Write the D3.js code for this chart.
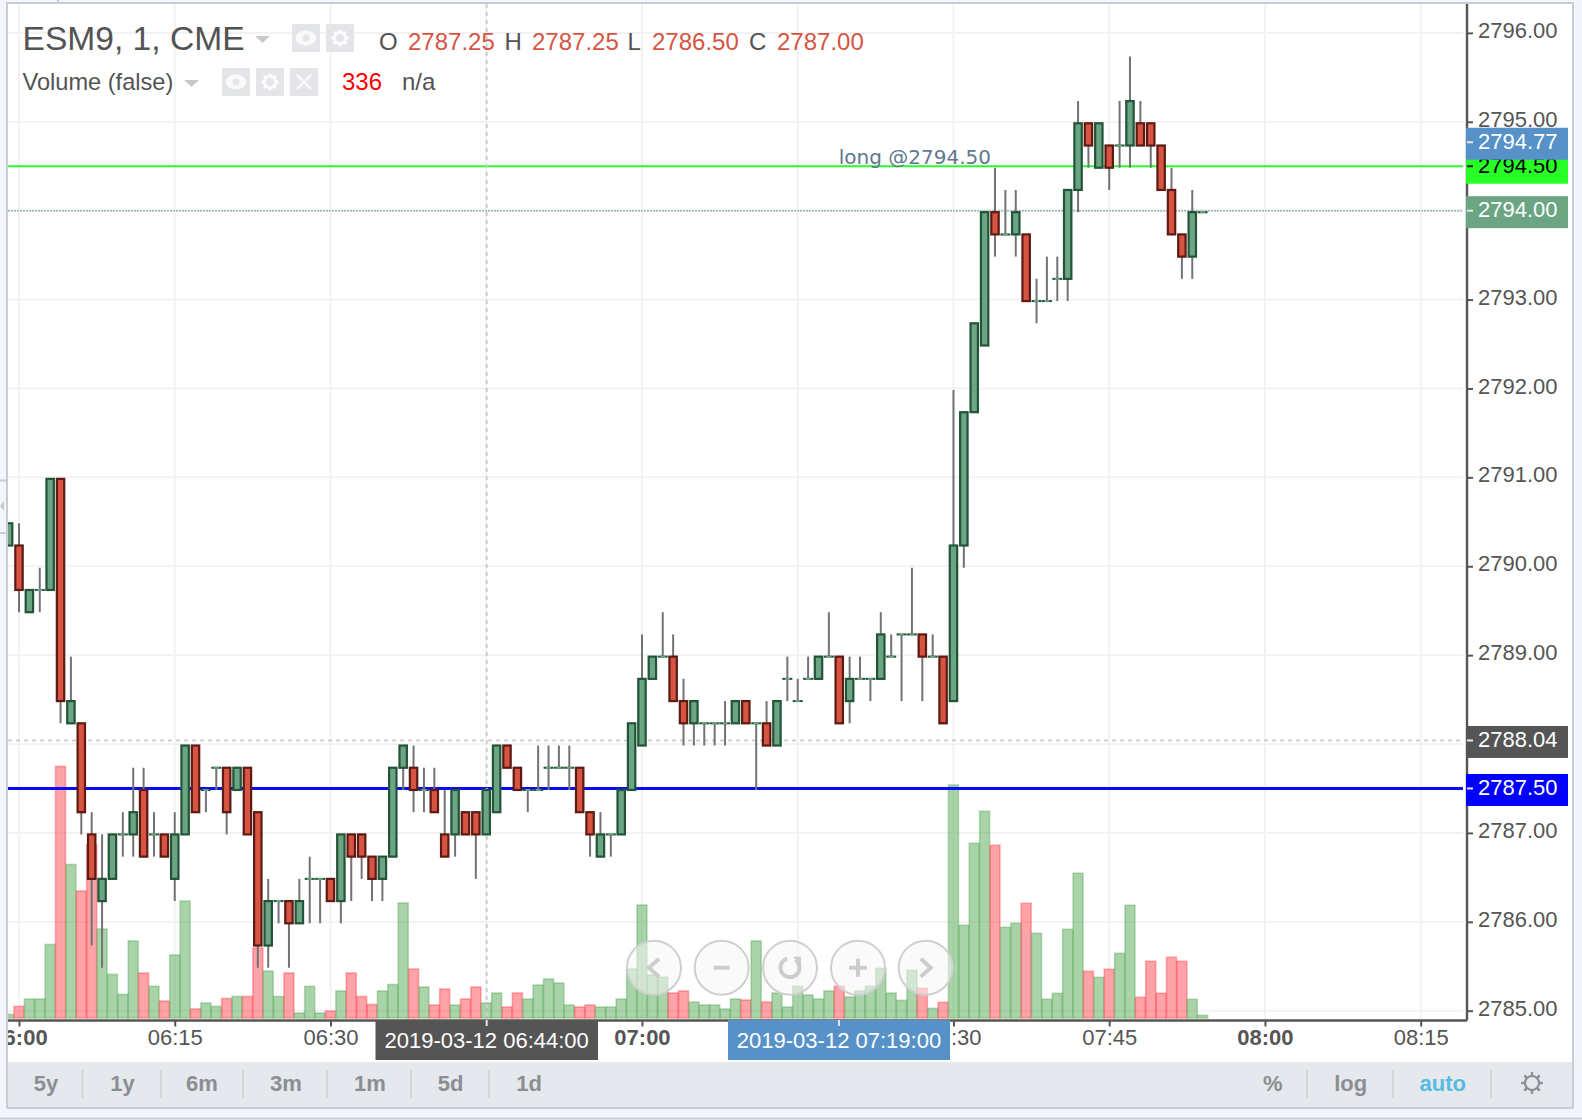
<!DOCTYPE html>
<html><head><meta charset="utf-8">
<script src="https://cdn.jsdelivr.net/npm/d3@7/dist/d3.min.js"></script>
<style>
html,body{margin:0;padding:0;background:#f2f5fa;overflow:hidden}
svg{display:block;font-family:"Liberation Sans",Arial,sans-serif}
</style></head><body><svg id="c" width="1582" height="1120"></svg>
<script>
// Bars are one minute apart, starting at 05:59 on 2019-03-12
const opens=[2790.25,2790.25,2789.5,2789.75,2789.75,2791,2788.25,2788.25,2787,2786.25,2786.5,2787,2787,2787.5,2787,2787,2786.5,2787,2788,2787.5,2787.75,2787.75,2787.5,2787.75,2787.25,2785.75,2786.25,2786.25,2786,2786.5,2786.5,2786.5,2786.25,2787,2787,2786.75,2786.5,2786.75,2787.75,2787.75,2787.5,2787.5,2787,2787,2787.25,2787.25,2787,2787.25,2788,2787.75,2787.5,2787.5,2787.75,2787.75,2787.75,2787.75,2787.25,2786.75,2787,2787,2787.5,2788,2788.75,2789,2789,2788.5,2788.25,2788.25,2788.25,2788.25,2788.25,2788.5,2788.25,2788.25,2788,2788.75,2788.5,2788.75,2788.75,2789,2789,2788.5,2788.75,2788.75,2788.75,2789,2789.25,2789.25,2789.25,2789,2789,2788.5,2790.25,2791.75,2792.5,2794,2793.75,2793.75,2793.75,2793,2793,2793.25,2793.25,2794.25,2795,2794.5,2794.75,2794.75,2794.75,2795,2795,2794.75,2794.25,2793.75,2793.5,2794];
const highs=[2790.5,2790.5,2789.75,2790,2791,2791,2789,2788.25,2787.25,2787,2787,2787.25,2787.75,2787.75,2787.25,2787,2787.25,2788,2788,2787.5,2787.75,2787.75,2787.75,2787.75,2787.25,2786.5,2786.25,2786.25,2786.5,2786.75,2786.5,2786.5,2787,2787,2787,2786.75,2786.75,2787.75,2788,2788,2787.75,2787.75,2787.5,2787.5,2787.25,2787.25,2787.5,2788,2788,2787.75,2787.5,2788,2788,2788,2788,2787.75,2787.25,2787.25,2787,2787.5,2788.25,2789.25,2789,2789.5,2789.25,2788.75,2788.5,2788.25,2788.25,2788.5,2788.5,2788.5,2788.25,2788.5,2788.5,2789,2788.75,2789,2789,2789.5,2789,2789,2789,2788.75,2789.5,2789.25,2789.25,2790,2789.25,2789.25,2789,2792,2791.75,2792.75,2794,2794.5,2794.25,2794.25,2793.75,2793.25,2793.5,2793.5,2794.25,2795.25,2795,2795,2794.75,2795.25,2795.75,2795.25,2795,2794.75,2794.5,2793.75,2794.25,2794];
const lows=[2790.25,2789.5,2789.5,2789.5,2789.75,2788.25,2788.25,2787,2785.75,2785.5,2786.5,2786.75,2786.75,2786.75,2786.75,2786.75,2786.25,2787,2787.25,2787.25,2787.5,2787,2787.5,2787,2785.5,2785.5,2786,2785.5,2786,2786,2786,2786.25,2786,2786.25,2786.5,2786.25,2786.25,2786.75,2787.5,2787.25,2787.25,2787.25,2786.75,2786.75,2787,2786.5,2787,2787.25,2787.75,2787.5,2787.25,2787.5,2787.5,2787.75,2787.5,2787.25,2786.75,2786.75,2786.75,2787,2787.5,2788,2788.75,2789,2788.5,2788,2788,2788,2788,2788,2788.25,2788.25,2787.5,2788,2788,2788.5,2788.5,2788.75,2788.75,2789,2788.25,2788.25,2788.75,2788.5,2788.75,2789,2788.5,2789.25,2788.5,2789,2788.25,2788.5,2790,2791.75,2792.5,2793.5,2793.75,2793.5,2793,2792.75,2793,2793,2793,2794,2794.5,2794.5,2794.25,2794.5,2794.5,2794.75,2794.5,2794.25,2793.75,2793.25,2793.25,2794];
const closes=[2790.5,2789.75,2789.75,2789.75,2791,2788.5,2788.5,2787.25,2786.5,2786.5,2787,2787,2787.25,2786.75,2787,2786.75,2787,2788,2787.25,2787.5,2787.75,2787.25,2787.75,2787,2785.75,2786.25,2786.25,2786,2786.25,2786.5,2786.5,2786.25,2787,2786.75,2786.75,2786.5,2786.75,2787.75,2788,2787.5,2787.5,2787.25,2786.75,2787.5,2787,2787,2787.5,2788,2787.75,2787.5,2787.5,2787.5,2787.75,2787.75,2787.75,2787.25,2787,2787,2787,2787.5,2788.25,2788.75,2789,2789,2788.5,2788.25,2788.5,2788.25,2788.25,2788.25,2788.5,2788.25,2788.25,2788,2788.5,2788.75,2788.5,2788.75,2789,2789,2788.25,2788.75,2788.75,2788.75,2789.25,2789,2789.25,2789.25,2789,2789,2788.25,2790.25,2791.75,2792.75,2794,2793.75,2793.75,2794,2793,2793,2793,2793.25,2794.25,2795,2794.75,2795,2794.5,2794.75,2795.25,2794.75,2794.75,2794.25,2793.75,2793.5,2794,2794];
const volumes=[39,126,206,206,797,2727,1664,1377,1875,965,473,256,835,488,343,184,683,1268,98,163,126,212,233,233,759,509,233,488,54,343,54,76,293,488,233,146,293,363,1247,531,336,141,314,141,206,336,163,271,119,271,206,358,423,379,141,119,141,119,119,206,531,1225,466,444,271,293,173,141,141,98,206,195,835,173,271,119,344,249,206,293,344,228,293,344,539,271,192,517,322,105,170,2526,1005,1894,2241,1872,983,1027,1243,918,203,268,962,1569,506,441,528,701,1222,224,615,268,658,615,203,29];
const priceTicks=[2785,2786,2787,2788,2789,2790,2791,2792,2793,2794,2795,2796];
const timeTicks=["06:00","06:15","06:30","06:45","07:00","07:15","07:30","07:45","08:00","08:15"];
const boldTimes=["06:00","07:00","08:00"];
const priceLabels=[["2794.50",2794.5,"#27ff27","#000"],["2794.77",2794.77,"#5691c8","#fff"],["2794.00",2794,"#6ba583","#fff"],["2788.04",2788.04,"#555555","#fff"],["2787.50",2787.5,"#0000ff","#fff"]];
const rangeButtons=["5y","1y","6m","3m","1m","5d","1d"];
const rightButtons=["%","log","auto"];
const ohlcLegend=[["O","2787.25"],["H","2787.25"],["L","2786.50"],["C","2787.00"]];

const parseT=d3.timeParse("%Y-%m-%d %H:%M");
const dayT=s=>parseT("2019-03-12 "+s);
const times=opens.map((_,i)=>d3.timeMinute.offset(dayT("05:59"),i));
const bars=opens.map((o,i)=>({t:times[i],o,h:highs[i],l:lows[i],c:closes[i],v:volumes[i]}));

const L=8,R=1467,T=4,B=1020.5;
const x=d3.scaleTime().domain([dayT("06:00"),dayT("08:15")]).range([19,1420.7]);
const y=d3.scaleLinear().domain([2785,2796]).range([1010.7,32.9]);
const v=d3.scaleLinear().domain([0,2727]).range([1018,766.4]);
const svg=d3.select("#c");

// page frame
svg.append("rect").attr("x",8).attr("y",4).attr("width",1564).attr("height",1058).attr("fill","#fff");
svg.append("rect").attr("x",8).attr("y",1062).attr("width",1564).attr("height",45).attr("fill","#e5e8ec");
const frame="#c9cdd2";
[[7,2,7,1108],[1573,2,1573,1108],[7,3,1573,3],[7,1108,1573,1108],[0,1118.5,1582,1118.5],[0,480.5,7,480.5],[0,533,7,533],[58,0,58,3]].forEach(a=>
  svg.append("line").attr("x1",a[0]).attr("y1",a[1]).attr("x2",a[2]).attr("y2",a[3]).attr("stroke",frame).attr("stroke-width",2));
svg.append("path").attr("d","M0 506L4 501V511Z").attr("fill","#c6c6c6");

svg.append("defs").append("clipPath").attr("id","plot").append("rect").attr("x",L).attr("y",T).attr("width",R-L).attr("height",B-T);
svg.append("defs").append("clipPath").attr("id","xclip").append("rect").attr("x",L).attr("y",T-B).attr("width",1564).attr("height",1058);

const plot=svg.append("g").attr("clip-path","url(#plot)");
// grid
const grid="#f2f2f3";
plot.selectAll(".gy").data(priceTicks).join("line").attr("x1",L).attr("x2",1463).attr("y1",d=>y(d)).attr("y2",d=>y(d)).attr("stroke",grid).attr("stroke-width",2);
plot.selectAll(".gx").data(timeTicks).join("line").attr("x1",d=>x(dayT(d))).attr("x2",d=>x(dayT(d))).attr("y1",T).attr("y2",B).attr("stroke",grid).attr("stroke-width",2);

// volume
const up=d=>d.c>=d.o;
plot.selectAll(".vol").data(bars).join("rect")
 .attr("x",d=>x(d.t)-5).attr("width",10).attr("y",d=>v(d.v)).attr("height",d=>1018-v(d.v))
 .attr("fill",d=>up(d)?"rgba(84,168,84,.5)":"rgba(255,72,82,.5)")
 .attr("stroke",d=>up(d)?"rgba(84,168,84,.4)":"rgba(255,60,70,.4)").attr("stroke-width",1.6);

// price lines
const hl=(p,c,w,dash)=>plot.append("line").attr("x1",L).attr("x2",1463).attr("y1",y(p)).attr("y2",y(p)).attr("stroke",c).attr("stroke-width",w).attr("stroke-dasharray",dash||null);
hl(2788.04,"#cfcfcf",2,"4 4");
hl(2794,"#a9c4b2",2,"2 1");
hl(2794.5,"#27ff27",2);
hl(2787.5,"#0a0aff",3);
plot.append("line").attr("x1",486.7).attr("x2",486.7).attr("y1",T).attr("y2",B).attr("stroke","#cfcfcf").attr("stroke-width",2).attr("stroke-dasharray","4 4");

// candles (drawn 1.5px below the grid, as in the reference)
const cg=plot.append("g").attr("transform","translate(0,1.5)");
cg.selectAll(".wick").data(bars).join("line").attr("x1",d=>x(d.t)).attr("x2",d=>x(d.t)).attr("y1",d=>y(d.h)).attr("y2",d=>y(d.l)).attr("stroke","#737375").attr("stroke-width",2);
const doji=bars.filter(d=>d.o===d.c), body=bars.filter(d=>d.o!==d.c);
cg.selectAll(".dj").data(doji).join("line").attr("x1",d=>x(d.t)-5).attr("x2",d=>x(d.t)+5).attr("y1",d=>y(d.c)).attr("y2",d=>y(d.c)).attr("stroke","#225437").attr("stroke-width",2);
cg.selectAll(".dj2").data(doji).join("line").attr("x1",d=>x(d.t)-2.5).attr("x2",d=>x(d.t)+2.5).attr("y1",d=>y(d.c)).attr("y2",d=>y(d.c)).attr("stroke","#6ba583").attr("stroke-width",2);
cg.selectAll(".bd").data(body).join("rect").attr("x",d=>x(d.t)-3.7).attr("width",7.4)
 .attr("y",d=>y(Math.max(d.o,d.c))).attr("height",d=>Math.abs(y(d.o)-y(d.c)))
 .attr("fill",d=>up(d)?"#6ba583":"#d75442").attr("stroke",d=>up(d)?"#225437":"#5b1a13").attr("stroke-width",2.2);

plot.append("text").attr("x",991).attr("y",164).attr("text-anchor","end").attr("font-family","DejaVu Sans").attr("font-size",20).attr("fill","#60788f").text("long @2794.50");

// axes
const yAxis=svg.append("g").attr("transform",`translate(${R},0)`).call(d3.axisRight(y).tickValues(priceTicks).tickSize(6).tickPadding(5).tickFormat(d3.format(".2f")));
yAxis.select(".domain").attr("d",`M0 ${T}V${B}`).attr("stroke","#555").attr("stroke-width",2.4);
yAxis.selectAll(".tick line").attr("stroke","#555").attr("stroke-width",2);
yAxis.selectAll("text").attr("font-family","Liberation Sans").attr("font-size",22).attr("fill","#555").attr("dy",".32em").attr("transform","translate(0,-2.5)");

const xAxis=svg.append("g").attr("clip-path","url(#xclip)").attr("transform",`translate(0,${B})`).call(d3.axisBottom(x).tickValues(timeTicks.map(dayT)).tickSize(6).tickPadding(3).tickFormat(d3.timeFormat("%H:%M")));
xAxis.select(".domain").attr("d",`M${L} 0H${R}`).attr("stroke","#555").attr("stroke-width",2.4);
xAxis.selectAll(".tick line").attr("stroke","#555").attr("stroke-width",2);
xAxis.selectAll("text").attr("font-family","Liberation Sans").attr("font-size",22).attr("fill","#555")
  .attr("font-weight",d=>boldTimes.includes(d3.timeFormat("%H:%M")(d))?"bold":"normal");

// price tags
priceLabels.forEach(p=>{
  const c=y(p[1]);
  const g=svg.append("g");
  g.append("rect").attr("x",R-1).attr("y",c-14.5).attr("width",102).attr("height",32).attr("fill",p[2]);
  g.append("line").attr("x1",R).attr("x2",R+6).attr("y1",c).attr("y2",c).attr("stroke",p[3]==="#000"?"#222":"#e8e8e8").attr("stroke-width",2);
  g.append("text").attr("x",1478).attr("y",c-1.5).attr("dy",".36em").attr("font-size",22).attr("fill",p[3]).text(p[0]);
});

// crosshair time tags
const timeTag=(x0,x1,c,cx,s)=>{
  svg.append("rect").attr("x",x0).attr("y",1020).attr("width",x1-x0).attr("height",40).attr("fill",c);
  svg.append("line").attr("x1",cx).attr("x2",cx).attr("y1",1020).attr("y2",1026).attr("stroke","#dfe6ee").attr("stroke-width",2);
  svg.append("text").attr("x",cx).attr("y",1040).attr("dy",".36em").attr("text-anchor","middle").attr("font-size",22).attr("fill","#fff").text(s);
};
timeTag(375.5,598,"#555555",486.7,"2019-03-12 06:44:00");
timeTag(728,950,"#5691c8",839,"2019-03-12 07:19:00");

// nav buttons
const nav=svg.append("g");
const ic="#cdcdcd";
[654,721.7,790,858,925.7].forEach((cx,i)=>{
  const g=nav.append("g").attr("transform",`translate(${cx},967.7)`);
  g.append("circle").attr("r",27).attr("fill","rgba(245,245,245,.55)").attr("stroke","#cfcfcf").attr("stroke-width",2);
  const p=d=>g.append("path").attr("d",d).attr("fill","none").attr("stroke",ic).attr("stroke-width",4);
  if(i===0)p("M5 -9L-5 0L5 9");
  if(i===1)p("M-8 0H8");
  if(i===2){p(d3.arc()({innerRadius:9.5,outerRadius:9.5,startAngle:.6,endAngle:6}));g.append("path").attr("d","M3 -11H11V-3Z").attr("fill",ic);}
  if(i===3)p("M-9 0H9M0 -9V9");
  if(i===4)p("M-5 -9L5 0L-5 9");
});

// legend
const tx=(xp,yp,s,size,c,w)=>svg.append("text").attr("x",xp).attr("y",yp).attr("font-size",size).attr("fill",c).attr("font-weight",w||"normal").text(s);
tx(22.5,50,"ESM9, 1, CME",33.6,"#535353");
svg.append("path").attr("d","M255 36H270L262.5 43Z").attr("fill","#c8c8c8");
[379,504.5,627.6,749].forEach((xp,i)=>{tx(xp,50,ohlcLegend[i][0],24,"#535353");});
[408,532,652,777].forEach((xp,i)=>{tx(xp,50,ohlcLegend[i][1],24,"#d75442");});
tx(22.5,90,"Volume (false)",23.6,"#535353");
svg.append("path").attr("d","M184 80H199L191.5 87Z").attr("fill","#c8c8c8");
tx(342,90,"336",24,"#ff0000");
tx(402,90,"n/a",24,"#535353");
const eye=(g)=>{g.append("ellipse").attr("cx",14).attr("cy",14).attr("rx",10.5).attr("ry",7.5).attr("fill","#fff").attr("opacity",.75);g.append("circle").attr("cx",14).attr("cy",14).attr("r",3.5).attr("fill","#e4e6e9");};
const gear=(g,cx,cy,r,c,w)=>{
  g.append("circle").attr("cx",cx).attr("cy",cy).attr("r",r).attr("fill","none").attr("stroke",c).attr("stroke-width",w);
  d3.range(8).forEach(k=>{const a=k*Math.PI/4;
    g.append("line").attr("x1",cx+Math.cos(a)*r).attr("y1",cy+Math.sin(a)*r).attr("x2",cx+Math.cos(a)*r*1.55).attr("y2",cy+Math.sin(a)*r*1.55).attr("stroke",c).attr("stroke-width",w*1.1);});
};
const box=(xp,yp,kind)=>{const g=svg.append("g").attr("transform",`translate(${xp},${yp})`);
  g.append("rect").attr("width",28).attr("height",28).attr("fill","#e3e5e8");
  if(kind==="eye")eye(g);
  if(kind==="gear")gear(g,14,14,5.5,"rgba(255,255,255,.8)",3);
  if(kind==="x")g.append("path").attr("d","M7 7L21 21M21 7L7 21").attr("stroke","#fff").attr("stroke-width",2.5).attr("opacity",.8);
};
box(292,24,"eye");box(326,24,"gear");box(222,68,"eye");box(256,68,"gear");box(290,68,"x");

// bottom toolbar
const mid=(xp,s,c)=>svg.append("text").attr("x",xp).attr("y",1083).attr("dy",".36em").attr("text-anchor","middle").attr("font-size",22).attr("font-weight","bold").attr("fill",c).text(s);
[46,122.5,202,286,370,450.6,529].forEach((xp,i)=>mid(xp,rangeButtons[i],"#8b8e93"));
[1272.7,1350.7,1442.7].forEach((xp,i)=>mid(xp,rightButtons[i],i===2?"#54bce0":"#8b8e93"));
[82.6,161,243,327,411,489,1307,1393,1491].forEach(xp=>svg.append("line").attr("x1",xp).attr("x2",xp).attr("y1",1070).attr("y2",1098).attr("stroke","#cfd2d6").attr("stroke-width",1.6));
gear(svg.append("g"),1532,1083,7,"#8b8e93",2.2);
</script></body></html>
